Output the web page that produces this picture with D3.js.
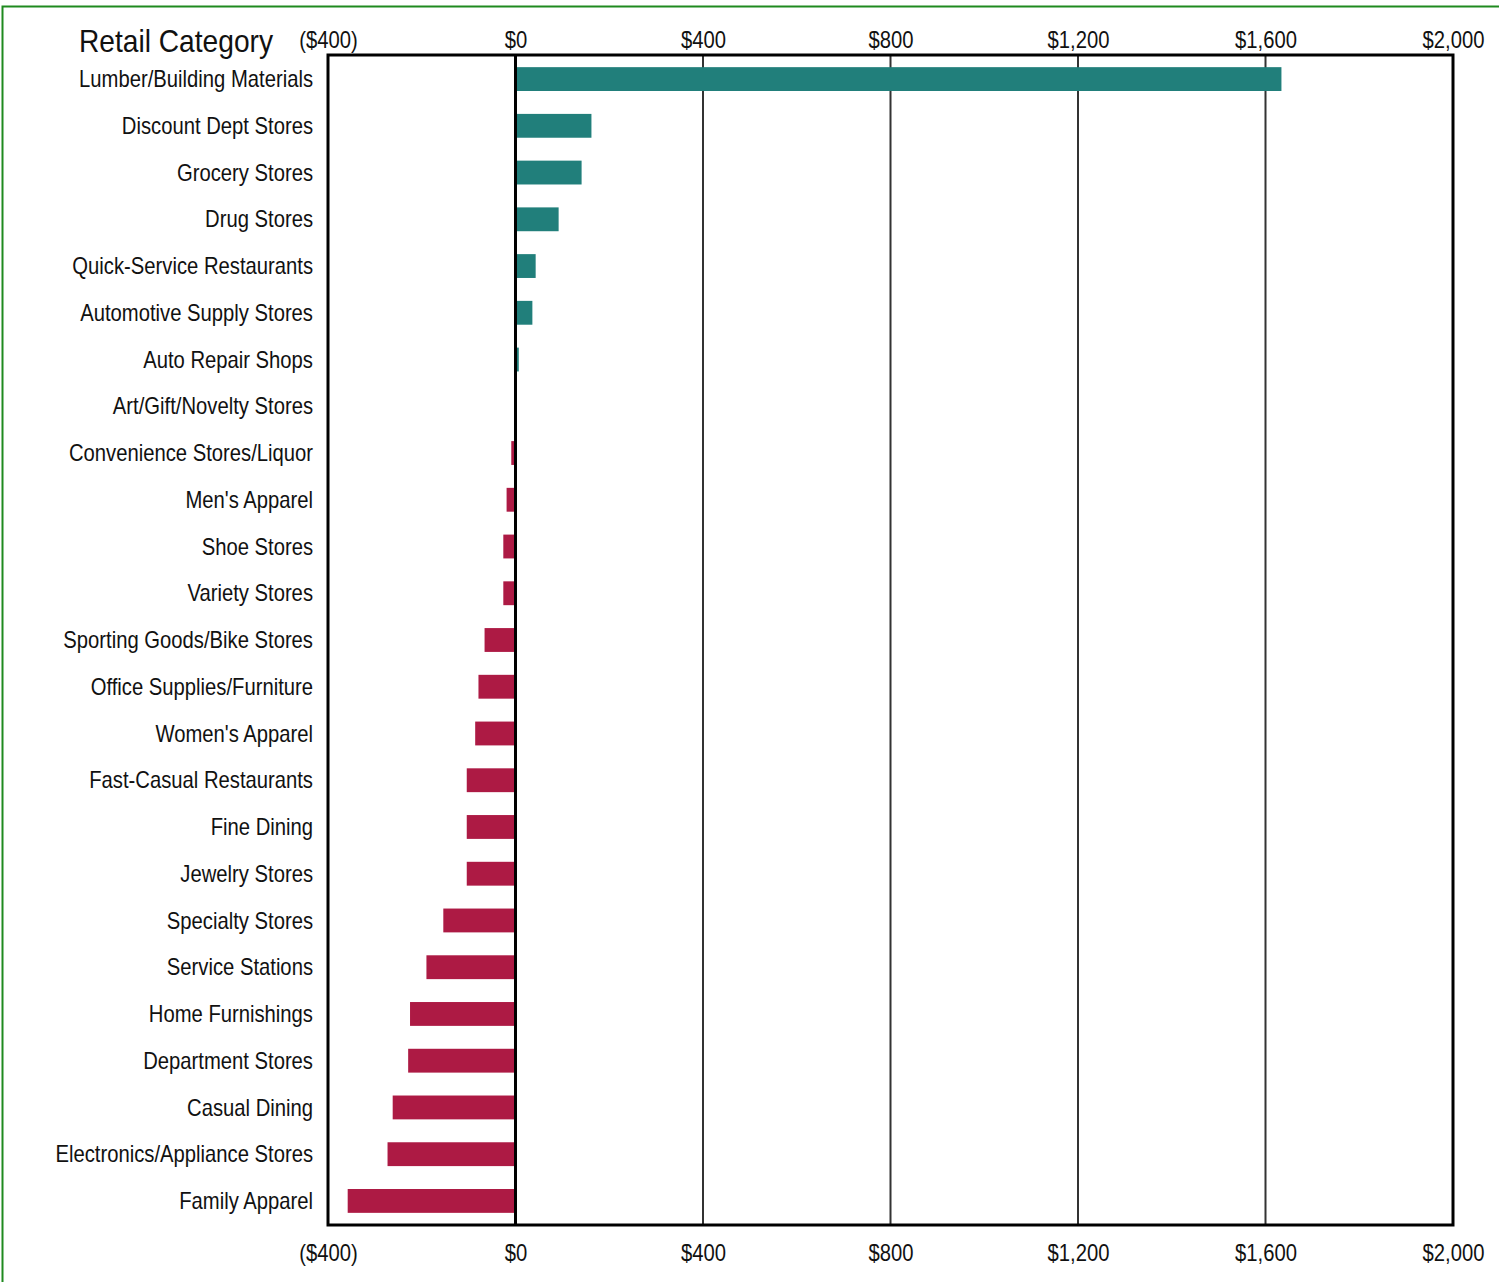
<!DOCTYPE html>
<html>
<head>
<meta charset="utf-8">
<script src="https://cdn.jsdelivr.net/npm/d3@7"></script>
<style>
  html, body { margin: 0; padding: 0; background: #fff; }
  svg text { font-family: "Liberation Sans", Arial, sans-serif; fill: #111; }
</style>
</head>
<body>
<svg id="chart" width="1499" height="1282"></svg>
<script>
// Retail categories, top to bottom
const categories = [
  "Lumber/Building Materials", "Discount Dept Stores", "Grocery Stores", "Drug Stores",
  "Quick-Service Restaurants", "Automotive Supply Stores", "Auto Repair Shops",
  "Art/Gift/Novelty Stores", "Convenience Stores/Liquor", "Men's Apparel", "Shoe Stores",
  "Variety Stores", "Sporting Goods/Bike Stores", "Office Supplies/Furniture",
  "Women's Apparel", "Fast-Casual Restaurants", "Fine Dining", "Jewelry Stores",
  "Specialty Stores", "Service Stations", "Home Furnishings", "Department Stores",
  "Casual Dining", "Electronics/Appliance Stores", "Family Apparel"
];
// Surplus / leakage per category ($)
const values = [
  1634, 162, 141, 92, 43, 36, 7, -3, -9, -19, -26, -26, -66, -79, -86,
  -104, -104, -104, -154, -190, -225, -229, -262, -273, -358
];
// Axis ticks
const tickValues = [-400, 0, 400, 800, 1200, 1600, 2000];
const tickLabels = ["($400)", "$0", "$400", "$800", "$1,200", "$1,600", "$2,000"];

// Horizontal squeeze that gives the condensed lettering
const NARROW = 0.88;

const svg = d3.select("#chart");
const m = { left: 328, right: 1453, top: 55, bottom: 1225 };

// Page border
svg.append("rect")
  .attr("x", 2.5).attr("y", 6.5).attr("width", 1520).attr("height", 1300)
  .attr("fill", "none").attr("stroke", "#1f8a1f").attr("stroke-width", 2);

const x = d3.scaleLinear().domain([-400, 2000]).range([m.left, m.right]);
const y = d3.scaleBand().domain(categories).range([m.top, m.bottom]).paddingInner(0.49).paddingOuter(0.26);

// Vertical gridlines
svg.append("g").selectAll("line")
  .data(tickValues.filter(v => v > -400 && v < 2000 && v !== 0))
  .join("line")
  .attr("x1", d => x(d)).attr("x2", d => x(d))
  .attr("y1", m.top).attr("y2", m.bottom)
  .attr("stroke", "#333").attr("stroke-width", 2);

// Bars
svg.append("g").selectAll("rect")
  .data(categories.map((c, i) => ({ c, v: values[i] })))
  .join("rect")
  .attr("x", d => x(Math.min(0, d.v)))
  .attr("width", d => Math.abs(x(d.v) - x(0)))
  .attr("y", d => y(d.c))
  .attr("height", y.bandwidth())
  .attr("fill", d => d.v >= 0 ? "#217f7b" : "#ad1a44");

// Zero line
svg.append("line")
  .attr("x1", x(0)).attr("x2", x(0)).attr("y1", m.top).attr("y2", m.bottom)
  .attr("stroke", "#000").attr("stroke-width", 3);

// Plot frame
svg.append("rect")
  .attr("x", m.left).attr("y", m.top)
  .attr("width", m.right - m.left).attr("height", m.bottom - m.top)
  .attr("fill", "none").attr("stroke", "#000").attr("stroke-width", 3);

// Top and bottom axes (labels only)
const fmt = d => tickLabels[tickValues.indexOf(d)];
const topAxis = d3.axisTop(x).tickValues(tickValues).tickFormat(fmt).tickSize(0).tickPadding(5);
const bottomAxis = d3.axisBottom(x).tickValues(tickValues).tickFormat(fmt).tickSize(0).tickPadding(20);
const gTop = svg.append("g").attr("transform", `translate(0,${m.top - 2})`).call(topAxis);
const gBot = svg.append("g").attr("transform", `translate(0,${m.bottom})`).call(bottomAxis);
[gTop, gBot].forEach(g => {
  g.select(".domain").remove();
  g.selectAll("text")
    .attr("font-size", 23).attr("fill", "#111")
    .attr("transform", `scale(${NARROW},1)`)
    .style("font-family", '"Liberation Sans", Arial, sans-serif');
});

// Category labels
svg.append("g").selectAll("text")
  .data(categories)
  .join("text")
  .attr("transform", d => `translate(313,${y(d) + y.bandwidth() / 2}) scale(${NARROW},1)`)
  .attr("dy", "0.35em")
  .attr("text-anchor", "end")
  .attr("font-size", 23)
  .text(d => d);

// Title
svg.append("text")
  .attr("transform", `translate(79,52) scale(${NARROW},1)`)
  .attr("font-size", 32)
  .text("Retail Category");
</script>
</body>
</html>
